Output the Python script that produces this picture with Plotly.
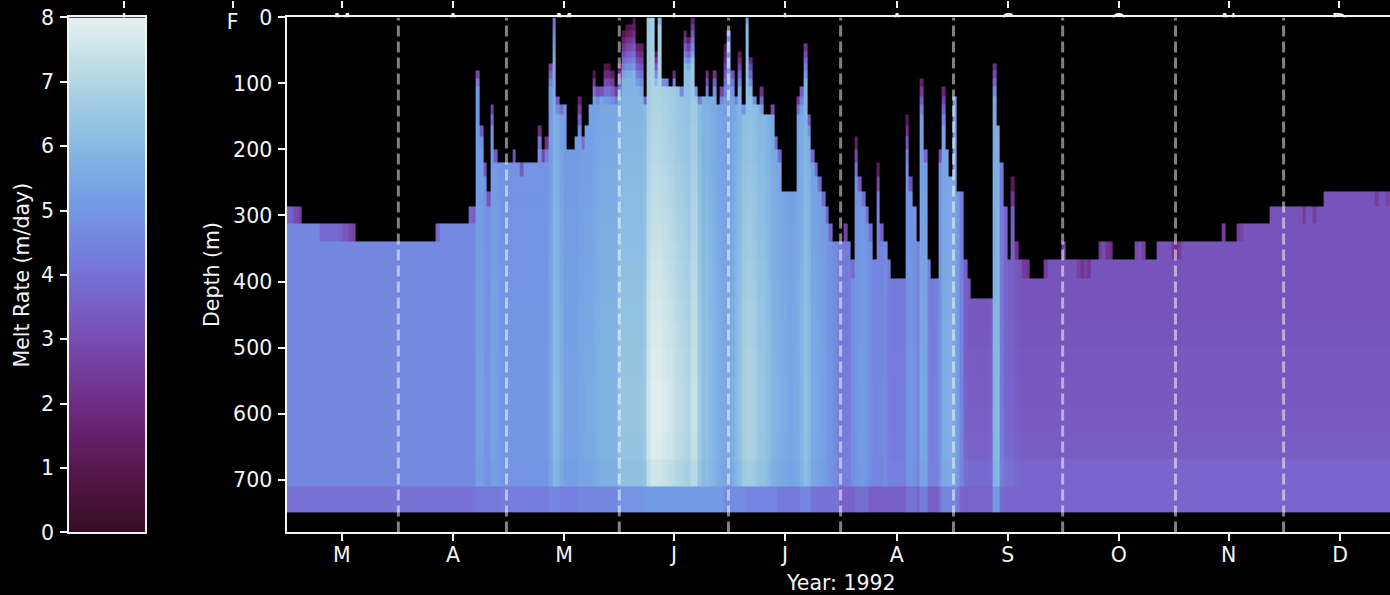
import plotly.graph_objects as go

W, H = 1390, 595
FONT = "DejaVu Sans"
FS = 20.5
INK = "#f4f4f4"

months_all = ["J", "F", "M", "A", "M", "J", "J", "A", "S", "O", "N", "D"]
ghost_tick_months = [0.02, 1, 1.986, 2.987, 3.988, 4.98, 5.98, 6.99, 7.99, 8.99, 9.98, 10.98]
month_tick_days = [15.2, 45.7, 76.2, 106.4, 136.9, 167.6, 198.1, 228.6, 258.8, 289.4]
month_tick_labels = ["M", "A", "M", "J", "J", "A", "S", "O", "N", "D"]
month_start_days = [30.7, 60.4, 91.4, 121.4, 152.2, 183.2, 213.2, 244.2, 273.9]
depth_ticks = [0, 100, 200, 300, 400, 500, 600, 700]
rate_ticks = [0, 1, 2, 3, 4, 5, 6, 7, 8]

level_edges = [0, 10, 20, 30, 40, 51, 61, 70, 81, 93, 105, 119, 132, 147, 163, 180, 200, 219,
               241, 264, 287, 312, 339, 366, 395, 425, 460, 500, 545, 590, 630, 670, 710, 750]
# share of the deep summer excess that reaches each level
level_gain = [.66, .66, .66, .67, .67, .68, .68, .69, .69, .70, .70, .71, .72, .73, .74, .75, .76, .78,
              .80, .82, .84, .86, .88, .90, .92, .94, .96, .98, 1.0, 1.0, .98, .90]
# extra melt seen near the bottom in the cool months
level_offset = [0] * 26 + [.05, .1, .15, .2, .25, .5]

# shallowest wet depth for each day from 1 March
top_depth = (
    [287] * 4 + [312] * 15 + [339] * 22 + [312] * 9 + [287] * 2 +
    [76, 163, 219, 264, 132, 200, 219] +
    [219, 219, 219, 200, 219, 219, 219, 219, 219, 219] +
    [163, 200, 180, 68, 0, 119, 132, 132, 200, 200, 180, 119, 180, 164, 132, 84, 106, 106, 75, 75, 84, 105, 75,
     23, 15, 10, 2, 40, 38, 119, 0, 0, 55, 0, 93, 93, 105, 84, 105, 105, 17, 30, 0, 105, 119, 119, 78, 119, 78,
     132, 105, 45, 20, 78, 119, 55, 132, 0, 60, 119, 132, 105, 147, 147, 132, 180, 200, 264, 264, 264, 264,
     119, 103, 38, 149, 199, 219, 241, 264, 287, 312, 339, 339, 339, 312, 339, 366, 182, 241, 264, 287, 312,
     366, 219, 312, 339, 366, 395, 395, 395, 395, 147, 241, 287, 339, 93, 199, 366, 395, 395, 199, 106, 199,
     241, 119, 264, 264, 366, 395] +
    [425] * 6 +
    [73, 163, 220, 287, 366, 241, 339, 366, 366, 366] +
    [395] * 4 +
    [366] * 5 + [339] + [366] * 9 +
    [339] * 4 + [366] * 6 + [339] * 3 + [366] * 3 +
    [339] * 18 + [312] + [339] * 3 +
    [312] * 9 + [287] * 15 + [264] * 21
)

# melt rate at about 625 m for each day from 1 March
rate_deep = (
    [4.6] * 31 + [4.65] * 21 +
    [5.3, 5.3, 5.0, 4.9, 5.3, 5.3, 5.1] + [5.0] * 7 + [5.0] * 5 +
    [5.05, 5.4, 6.1, 6.0, 5.6, 5.3, 5.3, 5.3, 5.3, 5.4, 5.4, 5.5, 5.5, 5.6, 5.7,
     5.8, 5.8, 5.8, 5.8, 5.8, 6.3, 6.4, 6.4, 6.4, 6.4, 6.4, 6.4, 6.6, 7.6, 7.9, 7.9, 7.9,
     7.8, 7.7, 7.6, 7.5, 7.3, 7.2, 7.1, 7.0, 7.4, 7.4, 6.6, 6.2, 6.3, 6.1, 5.9, 5.7, 5.6,
     5.5, 5.5, 5.7, 6.0, 6.3, 6.8, 6.9, 6.9, 6.8, 6.5, 6.5, 6.4, 6.2, 5.9, 5.8, 5.7, 5.6,
     5.5, 5.4, 5.5, 5.6, 5.9, 6.3, 6.1, 5.5, 5.5, 5.4, 5.3, 5.1, 4.9, 4.7, 4.4, 4.2, 4.2,
     4.3, 4.8, 5.0, 5.1, 5.1, 5.0, 4.7, 4.5, 4.5, 4.6, 4.7, 4.3, 4.2, 4.2, 4.2, 4.2, 4.9,
     5.0, 4.9, 4.5, 5.5, 5.4, 4.4, 4.3, 4.4, 5.0, 5.6, 5.7, 5.7, 5.5, 5.2, 4.4, 3.5,
     3.35, 3.3, 3.3, 3.3, 3.3, 3.3, 3.4, 5.9, 6.1, 4.2, 3.7, 3.5, 3.5, 3.3, 3.25] +
    [3.2] * 104
)

# melt rate in the lowest band (710-750 m)
rate_bottom = (
    [4.0] * 52 + [4.2] * 7 + [4.3] * 13 + [4.5] * 3 + [4.4] * 5 + [4.6] * 11 + [4.95] * 7 + [5.1] * 22 +
    [4.75] * 6 + [4.5] * 9 + [4.2] * 6 + [4.5] * 3 + [4.05] * 8 + [3.6] * 4 + [3.9] * 4 + [3.5] * 10 +
    [4.0] * 3 + [3.6] + [4.3] * 2 + [3.5] * 3 + [4.1] + [4.6] * 4 + [4.2, 3.7] + [3.6] * 8 +
    [5.1] * 2 + [3.9] + [3.7] * 109
)

# darker fringe at the top of a column: day -> (multiplier at the top, fade thickness in m)
top_fade = {
    0: (.55, 25), 1: (.5, 25), 2: (.3, 25), 3: (.15, 25), 9: (.65, 27), 10: (.65, 27), 11: (.65, 27),
    12: (.65, 27), 13: (.65, 27), 14: (.6, 27), 15: (.45, 27), 16: (.4, 27), 17: (.25, 27), 18: (.15, 27),
    41: (.6, 27), 50: (.6, 25), 51: (.5, 25), 52: (.3, 30), 53: (.5, 30), 54: (.5, 30), 55: (.2, 20),
    56: (.4, 40), 57: (.5, 30), 62: (.3, 20), 64: (.3, 20), 69: (.2, 35), 70: (.2, 20), 71: (.2, 35),
    72: (.4, 40), 73: (.7, 60), 74: (.5, 30), 75: (.6, 20), 80: (.2, 60), 81: (.5, 20), 84: (.15, 40),
    85: (.4, 25), 86: (.4, 20), 87: (.15, 55), 88: (.15, 55), 89: (.2, 50), 90: (.3, 30), 91: (.2, 50),
    92: (.12, 70), 93: (.12, 75), 94: (.12, 80), 95: (.12, 85), 96: (.2, 70), 97: (.15, 80), 98: (.3, 15),
    101: (.15, 50), 102: (.8, 15), 103: (.5, 15), 104: (.5, 15), 106: (.2, 25), 108: (.5, 15),
    109: (.15, 60), 110: (.15, 50), 111: (.2, 70), 112: (.6, 15), 113: (.5, 15), 115: (.2, 50),
    117: (.2, 40), 119: (.3, 25), 120: (.15, 80), 121: (.8, 20), 122: (.5, 40), 123: (.6, 15),
    124: (.2, 60), 125: (.6, 15), 126: (.8, 15), 127: (.2, 55), 128: (.6, 15), 130: (.2, 40), 133: (.2, 20),
    134: (.4, 20), 135: (.5, 25), 140: (.35, 35), 141: (.5, 40), 142: (.3, 60), 143: (.5, 30), 144: (.5, 25),
    145: (.5, 25), 146: (.5, 25), 147: (.5, 25), 148: (.5, 25), 149: (.5, 25), 153: (.2, 25), 155: (.3, 20),
    156: (.2, 60), 157: (.4, 25), 158: (.5, 20), 159: (.5, 20), 160: (.5, 20), 162: (.15, 60), 163: (.5, 25),
    170: (.15, 70), 171: (.4, 30), 174: (.2, 60), 175: (.5, 25), 179: (.4, 30), 180: (.25, 60), 194: (.35, 50),
    199: (.15, 60), 200: (.4, 30), 202: (.5, 25), 203: (.3, 25), 208: (.5, 25), 213: (.5, 20), 217: (.6, 25),
    218: (.3, 25), 219: (.6, 25), 220: (.3, 25), 223: (.5, 25), 224: (.8, 25), 225: (.4, 25), 226: (.2, 25),
    233: (.8, 25), 235: (.6, 25), 243: (.5, 25), 244: (.3, 25), 245: (.6, 25), 257: (.25, 20), 261: (.55, 25),
    262: (.7, 25), 279: (.4, 20), 282: (.45, 20), 299: (.5, 20), 302: (.65, 20),
}

n_days = len(top_depth)
assert len(rate_deep) == n_days and len(rate_bottom) == n_days, (len(top_depth), len(rate_deep), len(rate_bottom))
day_edges = list(range(n_days + 1))
melt = []
for k in range(len(level_edges) - 1):
    row = []
    centre = (level_edges[k] + level_edges[k + 1]) / 2
    for d in range(n_days):
        if centre < top_depth[d]:
            row.append(None)
            continue
        if k == len(level_edges) - 2:
            v = rate_bottom[d]
        else:
            r = rate_deep[d]
            v = 4.5 + (r - 4.5) * level_gain[k] if r > 4.5 else r
            v += level_offset[k] * max(0, min(1, (4.6 - r) / 1.3))
        f, thick = top_fade.get(d, (1, 1))
        v *= min(1, f + (1 - f) * max(0, centre - top_depth[d]) / thick)
        row.append(round(v, 3))
    melt.append(row)

cbar_steps = [8 * i / 255 for i in range(256)]

left_px = 286.6
x_right = (W - left_px) / 3.64

fig = go.Figure()
# first subplot: the axis of an earlier panel, cut off at the top of the page
fig.add_trace(go.Scatter(x=[], y=[], xaxis="x", yaxis="y", showlegend=False))
fig.add_trace(go.Heatmap(x=day_edges, y=level_edges, z=melt, zmin=0, zmax=8, colorscale="dense_r",
                         showscale=False, hoverongaps=False, xaxis="x2", yaxis="y2"))
fig.add_trace(go.Heatmap(x=[0, 1], y=[8 * i / 256 for i in range(257)], z=[[v] for v in cbar_steps], zmin=0, zmax=8,
                         colorscale="dense_r", showscale=False, xaxis="x3", yaxis="y3"))

dy0, dy1 = (H - 532.4) / H, (H - 17.4) / H
tickfont = dict(family=FONT, size=FS, color=INK)
axis_common = dict(color=INK, tickfont=tickfont, showgrid=False, zeroline=False, ticks="outside", automargin=False,
                   ticklen=6.5, tickwidth=1.5, tickcolor=INK, linecolor=INK, linewidth=1.5)
fig.update_layout(
    template="none",
    width=W, height=H, autosize=False,
    margin=dict(l=0, r=0, t=0, b=0),
    paper_bgcolor="black", plot_bgcolor="black", showlegend=False,
    font=dict(family=FONT, size=FS, color=INK),
    xaxis=dict(axis_common, domain=[0, 1], range=[1 - 232.7 / 110.9, 1 + (W - 232.7) / 110.9],
               anchor="free", position=1, side="bottom", tickmode="array", tickvals=ghost_tick_months,
               ticktext=months_all, showline=False, ticklabelstandoff=-3),
    yaxis=dict(domain=[dy0, dy1], range=[0, 1], visible=False, anchor="x", automargin=False),
    xaxis2=dict(axis_common, domain=[left_px / W, 1], range=[0, x_right], anchor="y2", tickmode="array",
                tickvals=month_tick_days, ticktext=month_tick_labels, mirror=True, showline=True, ticklabelstandoff=-3),
    yaxis2=dict(axis_common, domain=[dy0, dy1], range=[780, 0], anchor="x2", tickmode="array",
                tickvals=depth_ticks, showline=True, ticklabelstandoff=2),
    xaxis3=dict(domain=[68.5 / W, 145 / W], range=[0, 1], anchor="y3", showticklabels=False, ticks="", automargin=False,
                showgrid=False, zeroline=False, showline=True, mirror=True, linecolor=INK, linewidth=1.5),
    yaxis3=dict(axis_common, domain=[dy0, dy1], range=[0, 8], anchor="x3", tickmode="array", tickvals=rate_ticks,
                showline=True, mirror=True, ticklabelstandoff=2),
    shapes=[dict(type="rect", layer="between", xref="x2", yref="y2", x0=0, x1=x_right, y0=0, y1=780,
                 fillcolor="black", line_width=0)] +
           [dict(type="line", layer="above", xref="x2", yref="y2", x0=d, x1=d, y0=780, y1=0,
                 line=dict(color="rgba(255,255,255,0.5)", width=3, dash="11px,5px")) for d in month_start_days],
    annotations=[
        dict(text="Year: 1992", xref="paper", yref="paper", x=841 / W, y=(H - 583) / H, showarrow=False,
             xanchor="center", yanchor="middle", font=tickfont),
        dict(text="Depth (m)", xref="paper", yref="paper", x=212 / W, y=(H - 275) / H, textangle=-90, showarrow=False,
             xanchor="center", yanchor="middle", font=tickfont),
        dict(text="Melt Rate (m/day)", xref="paper", yref="paper", x=21.5 / W, y=(H - 275) / H, textangle=-90,
             showarrow=False, xanchor="center", yanchor="middle", font=tickfont),
    ],
)

fig.write_html("out.html", config={"displayModeBar": False},
               post_script="document.body.style.margin='0';document.body.style.overflow='hidden';document.body.style.background='black';")
